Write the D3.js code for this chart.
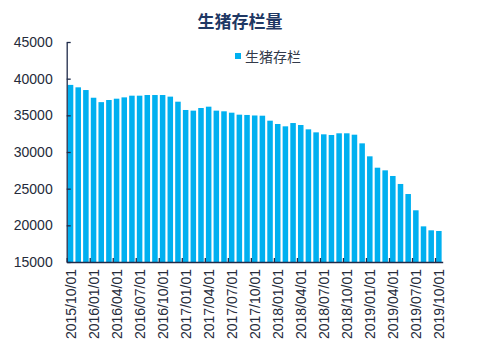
<!DOCTYPE html>
<html lang="zh">
<head>
<meta charset="UTF-8">
<title>生猪存栏量</title>
<style>
  body { margin: 0; background: #fff; }
  text { font-family: "Liberation Sans", Arial, "Noto Sans CJK SC", sans-serif; }
</style>
</head>
<body>
<script src="https://d3js.org/d3.v7.min.js"></script>
<script>
    let w = 477, h = 344;

    // 月份（每月一日）
    let months = [
        "2015/10/01", "2015/11/01", "2015/12/01",
        "2016/01/01", "2016/02/01", "2016/03/01", "2016/04/01", "2016/05/01", "2016/06/01",
        "2016/07/01", "2016/08/01", "2016/09/01", "2016/10/01", "2016/11/01", "2016/12/01",
        "2017/01/01", "2017/02/01", "2017/03/01", "2017/04/01", "2017/05/01", "2017/06/01",
        "2017/07/01", "2017/08/01", "2017/09/01", "2017/10/01", "2017/11/01", "2017/12/01",
        "2018/01/01", "2018/02/01", "2018/03/01", "2018/04/01", "2018/05/01", "2018/06/01",
        "2018/07/01", "2018/08/01", "2018/09/01", "2018/10/01", "2018/11/01", "2018/12/01",
        "2019/01/01", "2019/02/01", "2019/03/01", "2019/04/01", "2019/05/01", "2019/06/01",
        "2019/07/01", "2019/08/01", "2019/09/01", "2019/10/01"
    ];

    // 生猪存栏（万头）
    let stock = [
        39150, 38820, 38450,
        37400, 36800, 37090, 37270, 37450, 37680,
        37680, 37770, 37770, 37770, 37550, 36860,
        35730, 35640, 36000, 36180, 35640, 35550,
        35360, 35090, 35050, 34980, 34950, 34270,
        33820, 33500, 33950, 33680, 33090, 32680,
        32410, 32320, 32550, 32550, 32360, 31180,
        29410, 27860, 27500, 26730, 25640, 24270,
        22050, 19860, 19320, 19230
    ];

    let yTicks = [15000, 20000, 25000, 30000, 35000, 40000, 45000];

    let inner = {left: 66.7, right: 442.7, top: 42, bottom: 262};

    let svg = d3.select("body")
        .append("svg")
        .attr("width", w)
        .attr("height", h);

    let x = d3.scaleBand()
        .domain(months)
        .range([inner.left, inner.right])
        .paddingInner(0.28)
        .paddingOuter(0.14);

    // 刻度落在类别分界上
    let xIdx = d3.scaleLinear()
        .domain([0, months.length])
        .range([inner.left, inner.right]);

    let y = d3.scaleLinear()
        .domain([15000, 45000])
        .range([inner.bottom, inner.top]);

    // 柱子
    svg.append("g")
        .selectAll("rect")
        .data(stock)
        .enter()
        .append("rect")
        .attr("x", (d, i) => x(months[i]))
        .attr("y", d => y(d))
        .attr("width", x.bandwidth())
        .attr("height", d => inner.bottom - y(d))
        .attr("fill", "#00b0f0");

    // y轴
    let yAxis = svg.append("g")
        .attr("transform", "translate(" + inner.left + ",0)")
        .call(d3.axisLeft(y)
            .tickValues(yTicks)
            .tickFormat(d3.format("d"))
            .tickSize(-4)
            .tickPadding(14)
            .tickSizeOuter(0));
    yAxis.select(".domain").attr("stroke", "#1f2b4a").attr("stroke-width", 1.3);
    yAxis.selectAll(".tick line").attr("stroke", "#1f2b4a").attr("stroke-width", 1.3);
    yAxis.selectAll("text")
        .style("font-size", "14px")
        .attr("fill", "#252b3a");

    // x轴刻度线
    let xTickAxis = svg.append("g")
        .attr("transform", "translate(0," + inner.bottom + ")")
        .call(d3.axisBottom(xIdx)
            .tickValues(d3.range(0, months.length, 3))
            .tickSize(-4)
            .tickSizeOuter(0)
            .tickFormat(""));
    xTickAxis.select(".domain").attr("stroke", "#1f2b4a").attr("stroke-width", 1.5);
    xTickAxis.selectAll(".tick line").attr("stroke", "#1f2b4a").attr("stroke-width", 1.3);

    // x轴标签，每三个月一个
    let labelMonths = months.filter((d, i) => i % 3 === 0);
    svg.append("g")
        .selectAll("text")
        .data(labelMonths)
        .enter()
        .append("text")
        .attr("transform", d => "translate(" + (x(d) + x.bandwidth() / 2 + 5) + "," + (inner.bottom + 7) + ") rotate(-90)")
        .attr("text-anchor", "end")
        .style("font-size", "14px")
        .attr("fill", "#252b3a")
        .text(d => d);

    // 标题
    svg.append("text")
        .attr("x", 240)
        .attr("y", 28)
        .attr("text-anchor", "middle")
        .style("font-family", "'Noto Sans CJK SC', sans-serif")
        .style("font-size", "17px")
        .style("font-weight", "bold")
        .attr("fill", "#1f3864")
        .text("生猪存栏量");

    // 图例
    let legend = svg.append("g");
    legend.append("rect")
        .attr("x", 235)
        .attr("y", 53)
        .attr("width", 6)
        .attr("height", 6)
        .attr("fill", "#00b0f0");
    legend.append("text")
        .attr("x", 245)
        .attr("y", 61.5)
        .style("font-family", "'Noto Sans CJK SC', sans-serif")
        .style("font-size", "14px")
        .attr("fill", "#333a4a")
        .text("生猪存栏");
</script>
</body>
</html>
